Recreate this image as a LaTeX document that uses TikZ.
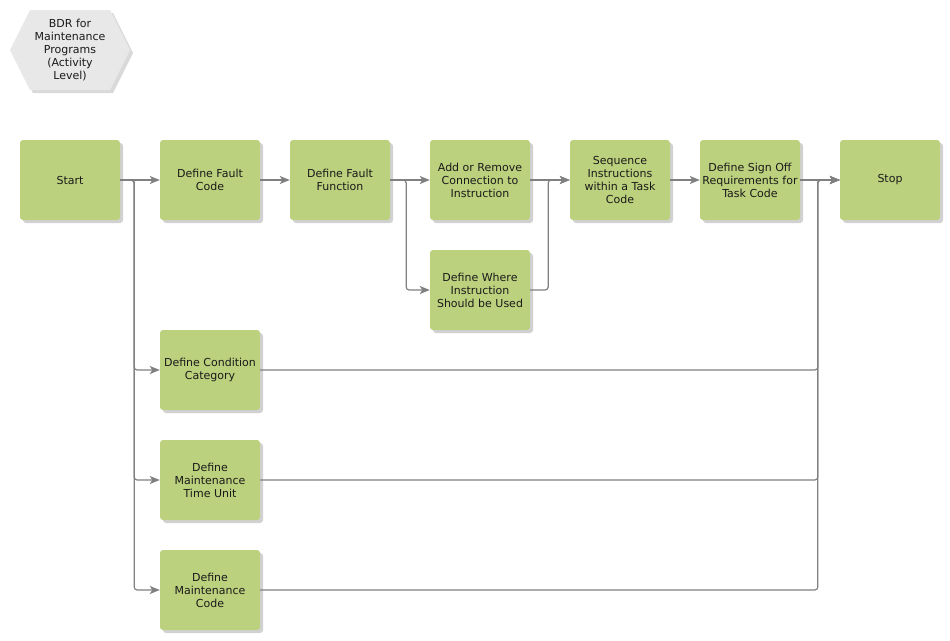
\documentclass[tikz,border=0pt]{standalone}
\usepackage{fontspec}
\setmainfont{DejaVu Sans}
\usetikzlibrary{arrows.meta,shadows}
\definecolor{boxgreen}{HTML}{BCD17D}
\definecolor{hexgray}{HTML}{E8E8E8}
\definecolor{linegray}{HTML}{808080}
\definecolor{txt}{HTML}{1A1A1A}
\tikzset{
  stepbox/.style={rectangle, rounded corners=3pt, fill=boxgreen, minimum width=100pt, minimum height=80pt,
    inner sep=0pt, align=center, text=txt, font=\fontsize{11}{13}\selectfont,
    drop shadow={shadow xshift=3pt, shadow yshift=-3pt, fill=black, opacity=0.18}},
  conn/.style={draw=linegray, line width=1.2pt, rounded corners=3pt,
    -{Stealth[length=10pt,width=8pt,inset=2.5pt]}},
  plainconn/.style={draw=linegray, line width=1.2pt, rounded corners=3pt}
}
\begin{document}
\begin{tikzpicture}[x=1pt,y=-1pt]
\useasboundingbox (0,0) rectangle (950,640);
% title hexagon
\fill[black,opacity=0.15] (13,53) -- (33,13) -- (113,13) -- (133,53) -- (113,93) -- (33,93) -- cycle;
\fill[hexgray] (10,50) -- (30,10) -- (110,10) -- (130,50) -- (110,90) -- (30,90) -- cycle;
\node[align=center, text=txt, font=\fontsize{11}{13}\selectfont] (title) at (70,50) {BDR for\\Maintenance\\Programs\\(Activity\\Level)};
% boxes
\node[stepbox] (s)  at (70,180)  {Start};
\node[stepbox] (fc) at (210,180) {Define Fault\\Code};
\node[stepbox] (ff) at (340,180) {Define Fault\\Function};
\node[stepbox] (ar) at (480,180) {Add or Remove\\Connection to\\Instruction};
\node[stepbox] (dw) at (480,290) {Define Where\\Instruction\\Should be Used};
\node[stepbox] (sq) at (620,180) {Sequence\\Instructions\\within a Task\\Code};
\node[stepbox] (so) at (750,180) {Define Sign Off\\Requirements for\\Task Code};
\node[stepbox] (st) at (890,180) {Stop};
\node[stepbox] (cc) at (210,370) {Define Condition\\Category};
\node[stepbox] (tu) at (210,480) {Define\\Maintenance\\Time Unit};
\node[stepbox] (mc) at (210,590) {Define\\Maintenance\\Code};
% connectors
\draw[conn] (s.east) -- (fc.west);
\draw[conn] (s.east) -- ++(14,0) |- (cc.west);
\draw[conn] (s.east) -- ++(14,0) |- (tu.west);
\draw[conn] (s.east) -- ++(14,0) |- (mc.west);
\draw[conn] (fc.east) -- (ff.west);
\draw[conn] (ff.east) -- (ar.west);
\draw[conn] (ff.east) -- ++(16,0) |- (dw.west);
\draw[conn] (ar.east) -- (sq.west);
\draw[conn] (dw.east) -- ++(18,0) |- (sq.west);
\draw[conn] (sq.east) -- (so.west);
\draw[conn] (so.east) -- (st.west);
\draw[conn] (cc.east) -| ([xshift=-22pt]st.west) -- (st.west);
\draw[conn] (tu.east) -| ([xshift=-22pt]st.west) -- (st.west);
\draw[conn] (mc.east) -| ([xshift=-22pt]st.west) -- (st.west);
\end{tikzpicture}
\end{document}
